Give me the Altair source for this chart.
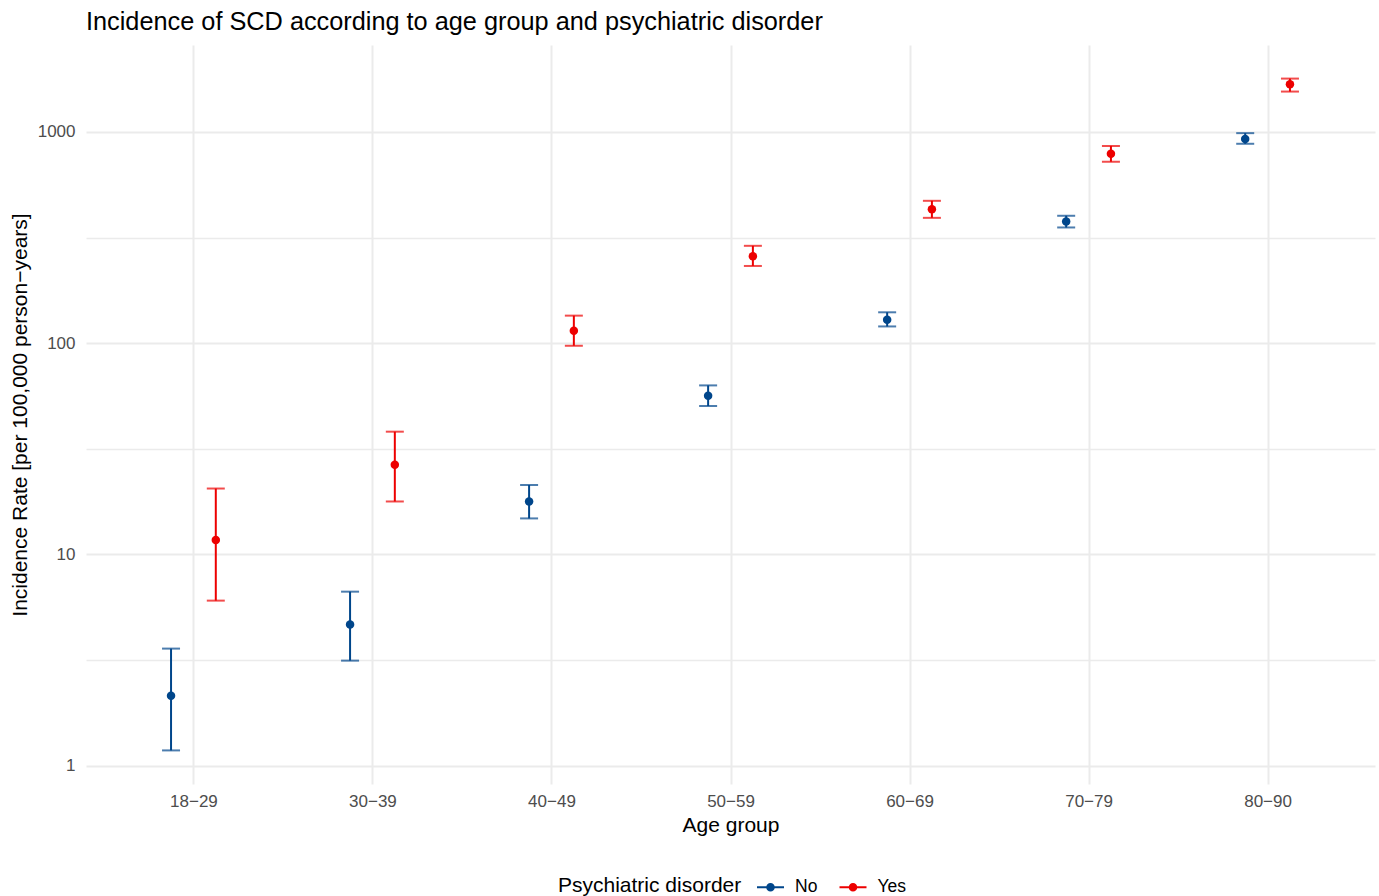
import altair as alt
import pandas as pd
import numpy as np

# ---- data ----
age_groups = ["18−29", "30−39", "40−49", "50−59", "60−69", "70−79", "80−90"]
no_rate = [2.14, 4.65, 17.8, 56.4, 129, 377, 927]
no_lower = [1.18, 3.14, 14.8, 50.4, 120, 353, 879]
no_upper = [3.58, 6.66, 21.3, 63.1, 140, 401, 987]
yes_rate = [11.7, 26.6, 114.5, 258, 431, 789, 1683]
yes_lower = [6.04, 17.8, 97.2, 232, 392, 723, 1553]
yes_upper = [20.5, 38.1, 135, 289, 472, 859, 1789]
groups = ["No", "Yes"]
colors = ["#00468B", "#ED0000"]

rows = []
for i, a in enumerate(age_groups):
    rows.append(dict(age=a, idx=i, group="No", rate=no_rate[i], lo=no_lower[i], hi=no_upper[i]))
    rows.append(dict(age=a, idx=i, group="Yes", rate=yes_rate[i], lo=yes_lower[i], hi=yes_upper[i]))
df = pd.DataFrame(rows)

# ggplot-like 5% expansion of the log range
lmin = np.log10(df["lo"].min())
lmax = np.log10(df["hi"].max())
ext = 0.05 * (lmax - lmin)
ydomain = [float(10 ** (lmin - ext)), float(10 ** (lmax + ext))]
ybreaks = [1, 10 ** 0.5, 10, 10 ** 1.5, 100, 10 ** 2.5, 1000]

FONT = "Liberation Sans"
label_js = "[" + ",".join("'" + a + "'" for a in age_groups) + "]"

xenc = alt.X(
    "xpos:Q",
    scale=alt.Scale(domain=[-0.6, len(age_groups) - 0.4], nice=False, zero=False),
    axis=alt.Axis(
        values=list(range(len(age_groups))),
        labelExpr=label_js + "[round(datum.value)]",
        title="Age group",
        grid=True,
        gridColor="#EBEBEB",
        gridWidth=2,
        ticks=False,
        domain=False,
        labelFont=FONT,
        labelFontSize=17,
        labelColor="#4D4D4D",
        labelPadding=9,
        titleFont=FONT,
        titleFontSize=21,
        titleFontWeight="normal",
        titleColor="black",
        titlePadding=5,
    ),
)

yaxis = alt.Axis(
    values=ybreaks,
    labelExpr="(datum.value == 1 || datum.value == 10 || datum.value == 100 || datum.value == 1000) ? format(datum.value, 'd') : ''",
    title="Incidence Rate [per 100,000 person−years]",
    grid=True,
    gridColor="#EBEBEB",
    gridWidth={"condition": {"test": "datum.value == 1 || datum.value == 10 || datum.value == 100 || datum.value == 1000", "value": 2}, "value": 1.3},
    ticks=False,
    domain=False,
    labelFont=FONT,
    labelFontSize=17,
    labelColor="#4D4D4D",
    labelPadding=11,
    titleFont=FONT,
    titleFontSize=21,
    titleFontWeight="normal",
    titleColor="black",
    titlePadding=7,
)
yscale = alt.Scale(type="log", domain=ydomain, nice=False)

legend = alt.Legend(
    title="Psychiatric disorder",
    orient="none",
    legendX=472,
    legendY=831,
    direction="horizontal",
    titleOrient="left",
    titleFont=FONT,
    titleFontSize=21,
    titleFontWeight="normal",
    titleColor="black",
    titlePadding=17.5,
    titleLimit=500,
    labelFont=FONT,
    labelFontSize=17.5,
    labelColor="black",
    labelOffset=13.5,
    labelLimit=200,
    columnPadding=17.5,
    symbolType="M-1.35,0L1.35,0M-0.33,0A0.33,0.33,0,1,1,0.33,0A0.33,0.33,0,1,1,-0.33,0Z",
    symbolSize=400,
    symbolStrokeWidth=2,
)
cscale = alt.Scale(domain=groups, range=colors)

base = alt.Chart(df).transform_calculate(
    xpos="datum.idx + (datum.group == 'No' ? -0.125 : 0.125)"
)

rules = base.mark_rule(strokeWidth=2).encode(
    x=xenc,
    y=alt.Y("lo:Q", scale=yscale, axis=yaxis),
    y2="hi:Q",
    stroke=alt.Stroke("group:N", scale=cscale, legend=legend),
)
caps_lo = base.mark_tick(orient="horizontal", size=18, thickness=2).encode(
    x=xenc,
    y=alt.Y("lo:Q", scale=yscale),
    color=alt.Color("group:N", scale=cscale, legend=None),
)
caps_hi = base.mark_tick(orient="horizontal", size=18, thickness=2).encode(
    x=xenc,
    y=alt.Y("hi:Q", scale=yscale),
    color=alt.Color("group:N", scale=cscale, legend=None),
)
points = base.mark_circle(size=72, opacity=1).encode(
    x=xenc,
    y=alt.Y("rate:Q", scale=yscale),
    fill=alt.Fill("group:N", scale=cscale, legend=legend),
)

chart = (
    alt.layer(rules, caps_lo, caps_hi, points)
    .properties(
        width=1289,
        height=739,
        title=alt.TitleParams(
            text="Incidence of SCD according to age group and psychiatric disorder",
            anchor="start",
            frame="group",
            font=FONT,
            fontSize=25.3,
            fontWeight="normal",
            color="black",
            offset=10,
        ),
        autosize=alt.AutoSizeParams(type="none"),
        padding={"left": 86, "top": 45, "right": 4, "bottom": 112},
        background="white",
    )
    .configure_view(strokeWidth=0)
)

chart.save("out.html", embed_options={"renderer": "svg", "actions": False})
